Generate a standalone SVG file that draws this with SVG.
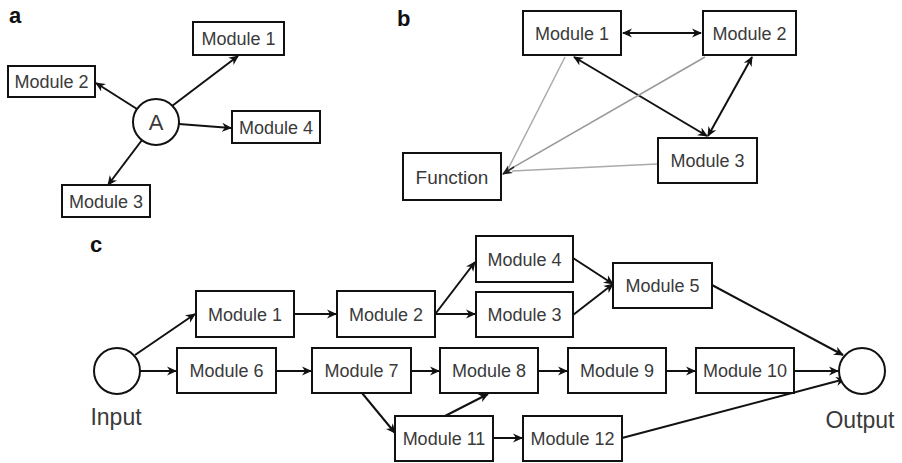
<svg xmlns="http://www.w3.org/2000/svg" width="902" height="463" viewBox="0 0 902 463">
<defs>
<style>
.box{fill:#fff;stroke:#111;stroke-width:2}
.circ{fill:#fff;stroke:#111;stroke-width:2}
.t{font-family:"Liberation Sans",Arial,sans-serif;font-size:18px;fill:#3a3a3a;text-anchor:middle}
.big{font-family:"Liberation Sans",Arial,sans-serif;font-size:23px;fill:#3a3a3a;text-anchor:middle}
.lbl{font-family:"Liberation Sans",Arial,sans-serif;font-size:22px;font-weight:bold;fill:#111}
.e{fill:none;stroke:#111;stroke-width:2;marker-end:url(#ah)}
.bi{fill:none;stroke:#111;stroke-width:2;marker-end:url(#ah);marker-start:url(#ah)}
</style>
<marker id="ah" viewBox="0 0 10 10" refX="9" refY="5" markerWidth="10" markerHeight="10" markerUnits="userSpaceOnUse" orient="auto-start-reverse">
<path d="M0,0.5 L10,5 L0,9.5 L3,5 z" fill="#111"/>
</marker>
<marker id="ahg" viewBox="0 0 10 10" refX="9" refY="5" markerWidth="10" markerHeight="10" markerUnits="userSpaceOnUse" orient="auto">
<path d="M0,0.5 L10,5 L0,9.5 L3,5 z" fill="#222"/>
</marker>
</defs>

<text class="lbl" x="9" y="23">a</text>
<text class="lbl" x="397" y="26">b</text>
<text class="lbl" x="90" y="252">c</text>

<g id="connectors">
<!-- panel a -->
<line class="e" x1="172" y1="106" x2="238" y2="56"/>
<line class="e" x1="137" y1="109" x2="96" y2="83"/>
<line class="e" x1="179" y1="124" x2="231" y2="128"/>
<line class="e" x1="142" y1="140" x2="108" y2="185"/>
<!-- panel b -->
<line class="bi" x1="623" y1="33" x2="701" y2="33"/>
<line class="bi" x1="574" y1="57" x2="707" y2="136"/>
<line class="bi" x1="752" y1="57" x2="708" y2="136"/>
<line x1="565" y1="57" x2="507" y2="171" stroke="#aaa" stroke-width="1.5"/>
<line x1="705" y1="57" x2="507" y2="171" stroke="#999" stroke-width="1.5"/>
<line x1="657" y1="164" x2="512" y2="171" stroke="#aaa" stroke-width="1.5"/>
<line x1="514" y1="167" x2="503" y2="174" stroke="#222" stroke-width="1.5" marker-end="url(#ahg)"/>
<!-- panel c -->
<line class="e" x1="135" y1="355" x2="195" y2="314"/>
<line class="e" x1="140" y1="371" x2="176" y2="371"/>
<line class="e" x1="294" y1="314" x2="336" y2="314"/>
<line class="e" x1="436" y1="313" x2="475" y2="262"/>
<line class="e" x1="435" y1="314" x2="475" y2="314"/>
<line class="e" x1="573" y1="258" x2="613" y2="284"/>
<line class="e" x1="573" y1="315" x2="613" y2="284"/>
<line class="e" x1="712" y1="285" x2="843" y2="355"/>
<line class="e" x1="276" y1="371" x2="311" y2="371"/>
<line class="e" x1="411" y1="371" x2="439" y2="371"/>
<line class="e" x1="538" y1="371" x2="567" y2="371"/>
<line class="e" x1="666" y1="371" x2="695" y2="371"/>
<line class="e" x1="794" y1="371" x2="838" y2="371"/>
<line class="e" x1="362" y1="393" x2="395" y2="433"/>
<line class="e" x1="445" y1="416" x2="488" y2="394"/>
<line class="e" x1="493" y1="438" x2="522" y2="438"/>
<line class="e" x1="622" y1="438" x2="845" y2="379"/>
</g>

<!-- panel a nodes -->
<g id="a-A"><circle class="circ" cx="156" cy="122" r="23"/><text class="t" x="156" y="130" style="font-size:22px">A</text></g>
<g id="a-m1"><rect class="box" x="193" y="22" width="91" height="33"/><text class="t" x="238.5" y="45">Module 1</text></g>
<g id="a-m2"><rect class="box" x="8" y="66" width="87" height="31"/><text class="t" x="51.5" y="88">Module 2</text></g>
<g id="a-m4"><rect class="box" x="232" y="111" width="88" height="32"/><text class="t" x="276" y="133.5">Module 4</text></g>
<g id="a-m3"><rect class="box" x="62" y="185" width="88" height="32"/><text class="t" x="106" y="207.5">Module 3</text></g>

<!-- panel b nodes -->
<g id="b-m1"><rect class="box" x="523" y="11" width="98" height="44"/><text class="t" x="572" y="39.5">Module 1</text></g>
<g id="b-m2"><rect class="box" x="703" y="11" width="93" height="44"/><text class="t" x="749.5" y="39.5">Module 2</text></g>
<g id="b-m3"><rect class="box" x="658" y="138" width="99" height="45"/><text class="t" x="707.5" y="167">Module 3</text></g>
<g id="b-fn"><rect class="box" x="403" y="153" width="98" height="47"/><text class="t" x="452" y="184" style="font-size:19px">Function</text></g>

<!-- panel c nodes -->
<g id="c-in"><circle class="circ" cx="117" cy="371" r="23"/><text class="big" x="116" y="425">Input</text></g>
<g id="c-out"><circle class="circ" cx="862" cy="371" r="23"/><text class="big" x="860" y="428">Output</text></g>
<g id="c-m1"><rect class="box" x="196" y="291" width="98" height="46"/><text class="t" x="245" y="320.5">Module 1</text></g>
<g id="c-m2"><rect class="box" x="337" y="291" width="98" height="46"/><text class="t" x="386" y="320.5">Module 2</text></g>
<g id="c-m4"><rect class="box" x="476" y="236" width="97" height="46"/><text class="t" x="524.5" y="265.5">Module 4</text></g>
<g id="c-m3"><rect class="box" x="476" y="292" width="97" height="45"/><text class="t" x="524.5" y="321">Module 3</text></g>
<g id="c-m5"><rect class="box" x="613" y="263" width="99" height="45"/><text class="t" x="662.5" y="292">Module 5</text></g>
<g id="c-m6"><rect class="box" x="177" y="348" width="99" height="45"/><text class="t" x="226.5" y="377">Module 6</text></g>
<g id="c-m7"><rect class="box" x="312" y="348" width="99" height="45"/><text class="t" x="361.5" y="377">Module 7</text></g>
<g id="c-m8"><rect class="box" x="440" y="348" width="98" height="45"/><text class="t" x="489" y="377">Module 8</text></g>
<g id="c-m9"><rect class="box" x="568" y="348" width="98" height="45"/><text class="t" x="617" y="377">Module 9</text></g>
<g id="c-m10"><rect class="box" x="696" y="348" width="98" height="45"/><text class="t" x="745" y="377">Module 10</text></g>
<g id="c-m11"><rect class="box" x="395" y="416" width="98" height="45"/><text class="t" x="444" y="445">Module 11</text></g>
<g id="c-m12"><rect class="box" x="523" y="416" width="99" height="45"/><text class="t" x="572.5" y="445">Module 12</text></g>
</svg>
